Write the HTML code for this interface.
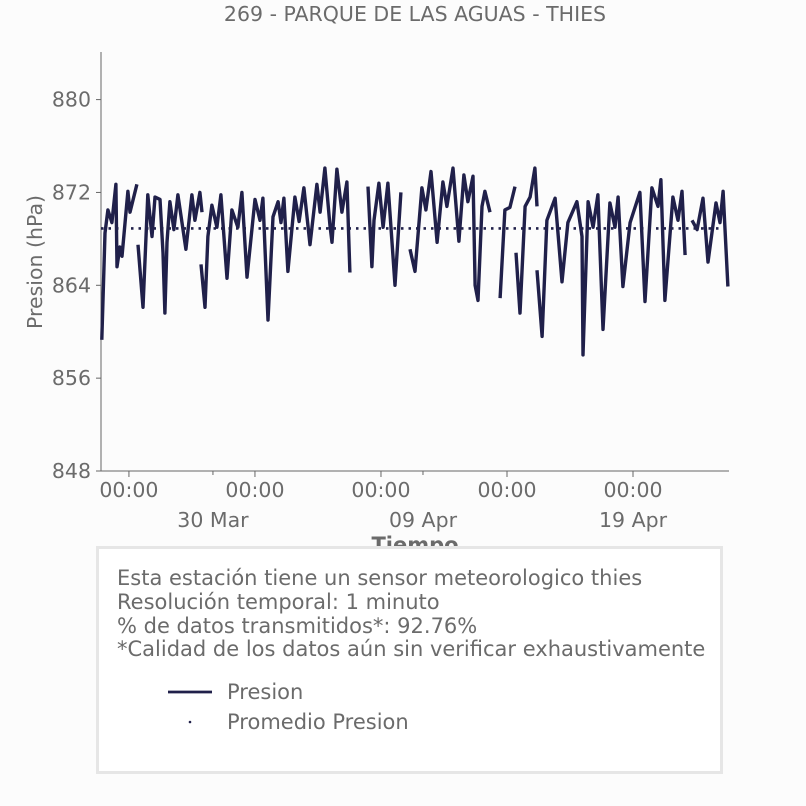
<!DOCTYPE html>
<html><head><meta charset="utf-8"><style>
body{margin:0;background:#fcfcfc;}
svg{display:block;font-family:"DejaVu Sans","Liberation Sans",sans-serif;}
</style></head><body>
<svg width="806" height="806" viewBox="0 0 806 806">
<rect x="0" y="0" width="806" height="806" fill="#fcfcfc"/>
<text x="415" y="21" text-anchor="middle" font-size="20.5" fill="#6b6b6b">269 - PARQUE DE LAS AGUAS - THIES</text>
<g id="axes"></g>
<g id="series"></g>
<text x="415" y="552" text-anchor="middle" font-size="21" font-weight="bold" fill="#6b6b6b">Tiempo</text>
<rect x="97.5" y="547.5" width="624" height="225" fill="#fff" stroke="#e6e6e6" stroke-width="3"/>
<g font-size="21" fill="#6b6b6b">
<text x="117" y="585">Esta estación tiene un sensor meteorologico thies</text>
<text x="117" y="609">Resolución temporal: 1 minuto</text>
<text x="117" y="633">% de datos transmitidos*: 92.76%</text>
<text x="117" y="656">*Calidad de los datos aún sin verificar exhaustivamente</text>
<line x1="168" y1="692" x2="212" y2="692" stroke="#20204a" stroke-width="2.8"/>
<text x="227" y="699">Presion</text>
<circle cx="190" cy="722" r="1.3" fill="#20204a"/>
<text x="227" y="729">Promedio Presion</text>
</g>
</svg>
<script>
// days since 26 Mar 00:00; null separates gaps
const days=[-1.29,-1.14,-1.0,-0.81,-0.62,-0.57,-0.43,-0.33,-0.05,0.05,0.38,null,
0.43,0.67,0.9,1.1,1.24,1.48,1.62,1.71,1.81,1.95,2.14,2.33,2.71,3.0,3.14,3.38,3.48,null,
3.43,3.62,3.76,3.95,4.19,4.38,4.67,4.9,5.19,5.38,5.62,6.0,6.24,6.38,6.62,6.86,7.1,7.24,7.38,7.57,7.9,8.1,8.33,8.62,8.95,9.1,9.33,9.57,9.67,9.9,10.14,10.38,10.52,null,
11.38,11.57,11.67,11.9,12.1,12.33,12.67,12.95,null,
13.38,13.62,13.95,14.14,14.38,14.67,14.95,15.14,15.43,15.71,15.95,16.14,16.38,16.48,16.62,16.81,16.95,17.19,null,
17.67,17.9,18.14,18.38,null,
18.43,18.62,18.86,19.1,19.33,19.43,null,
19.43,19.67,19.9,20.29,20.62,20.9,21.33,21.57,21.62,21.86,22.1,22.33,22.57,22.9,23.14,23.29,23.52,23.86,24.33,24.57,24.9,25.19,25.33,25.52,25.9,26.14,26.33,26.48,null,
26.81,27.05,27.33,27.57,27.95,28.14,28.29,28.52];
const pressure=[859.3,868.5,870.5,869.4,872.7,865.6,867.3,866.5,872.1,870.3,872.7,null,
867.5,862.1,871.8,868.2,871.6,871.4,866.8,861.6,867.7,871.2,868.8,871.8,867.1,871.8,869.6,872.0,870.3,null,
865.8,862.1,868.2,870.9,869.0,871.8,864.6,870.5,869.0,872.0,864.7,871.4,869.6,871.5,861.0,869.9,871.2,869.4,871.5,865.2,871.6,869.5,872.4,867.5,872.7,870.3,874.1,869.2,867.7,874.0,870.3,872.9,865.1,null,
872.5,865.6,869.6,872.8,869.0,872.8,864.0,872.0,null,
867.1,865.2,872.4,870.5,873.8,867.7,872.9,870.8,874.1,867.8,873.5,871.2,873.4,864.0,862.7,870.8,872.1,870.3,null,
862.9,870.5,870.7,872.5,null,
866.8,861.6,870.8,871.6,874.1,870.8,null,
865.3,859.6,869.6,871.5,864.3,869.4,871.2,868.2,858.0,871.2,869.0,871.8,860.2,871.1,869.0,871.6,863.9,869.4,872.0,862.6,872.4,870.8,873.1,862.7,871.6,869.6,872.1,866.6,null,
869.6,868.8,871.5,866.0,871.1,869.4,872.1,863.9];
const meanPressure=868.9;
const yTicks=[848,856,864,872,880];
const xTickDays=[0,6,12,18,24];
const xTickLabels=["00:00","00:00","00:00","00:00","00:00"];
const dateDays=[4,14,24];
const dateLabels=["30 Mar","09 Apr","19 Apr"];

const X0=101,X1=729,Y0=471,Y1=52;
const dMin=-1.33,dMax=28.57,vMin=848,vMax=884.1;
const xs=d=>X0+(d-dMin)/(dMax-dMin)*(X1-X0);
const ys=v=>Y0-(v-vMin)/(vMax-vMin)*(Y0-Y1);
const NS="http://www.w3.org/2000/svg";
function mk(tag,attrs,parent){const e=document.createElementNS(NS,tag);for(const k in attrs)e.setAttribute(k,attrs[k]);parent.appendChild(e);return e;}
const ax=document.getElementById('axes'),sr=document.getElementById('series');

let l=mk('line',{x1:X0,y1:Y1,x2:X0,y2:Y0,stroke:'#666','stroke-width':1},ax);


l=mk('line',{x1:X0,y1:Y0,x2:X1,y2:Y0,stroke:'#666','stroke-width':1},ax);


yTicks.forEach(v=>{
  const t=mk('line',{x1:X0-5,y1:ys(v),x2:X0,y2:ys(v),stroke:'#666'},ax);
  
  
  const tx=mk('text',{x:X0-10,y:ys(v)+7,'text-anchor':'end','font-size':20.5,fill:'#6b6b6b'},ax);
  tx.textContent=v;
  
  
});
const yt=mk('text',{x:42,y:262,'text-anchor':'middle','font-size':20.5,fill:'#6b6b6b',transform:'rotate(-90 42 262)'},ax);
yt.textContent='Presion (hPa)';


xTickDays.forEach((d,i)=>{
  const t=mk('line',{x1:xs(d),y1:Y0,x2:xs(d),y2:Y0+6,stroke:'#666'},ax);
  
  
  const tx=mk('text',{x:xs(d),y:Y0+26,'text-anchor':'middle','font-size':20.5,fill:'#6b6b6b'},ax);
  tx.textContent=xTickLabels[i];
  
  
});
dateDays.forEach((d,i)=>{
  const t=mk('line',{x1:xs(d),y1:Y0,x2:xs(d),y2:Y0+4,stroke:'#666'},ax);
  
  
  const tx=mk('text',{x:xs(d),y:Y0+56,'text-anchor':'middle','font-size':20.5,fill:'#6b6b6b'},ax);
  tx.textContent=dateLabels[i];
  
  
});
const ml=mk('line',{x1:X0,y1:ys(meanPressure),x2:X1,y2:ys(meanPressure),stroke:'#20204a','stroke-width':2.6,'stroke-dasharray':'2.5 5'},sr);


let dstr='',pen=false;
for(let i=0;i<days.length;i++){
  if(days[i]===null){pen=false;continue;}
  dstr+=(pen?'L':'M')+xs(days[i]).toFixed(1)+','+ys(pressure[i]).toFixed(1);
  pen=true;
}
const p=mk('path',{d:dstr,fill:'none',stroke:'#20204a','stroke-width':3.4,'stroke-linejoin':'round'},sr);


</script>
</body></html>
